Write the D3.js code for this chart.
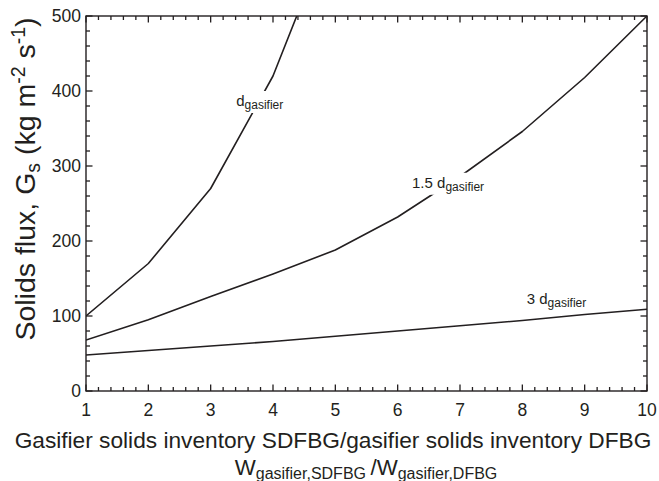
<!DOCTYPE html>
<html>
<head>
<meta charset="utf-8">
<script src="https://cdn.jsdelivr.net/npm/d3@7"></script>
<style>
  html, body { margin: 0; padding: 0; background: #fff; }
  svg { display: block; }
  text { font-family: "Liberation Sans", Arial, Helvetica, sans-serif; fill: #231f20; }
</style>
</head>
<body>
<svg id="chart" width="659" height="481"></svg>
<script>
// ---- data ----
const ratios = [1, 2, 3, 4, 5, 6, 7, 8, 9, 10];
const fluxD   = [100, 170, 270, 420, 630];            // d_gasifier (leaves the frame above 500)
const flux15D = [68, 95, 126, 156, 188, 232, 286, 346, 418, 500];
const flux3D  = [48, 54, 60, 66, 73, 80, 87, 94, 102, 109];
const xTicks = [1, 2, 3, 4, 5, 6, 7, 8, 9, 10];
const yTicks = [0, 100, 200, 300, 400, 500];
const xMinorTicks = [1.2, 1.4, 1.6, 1.8, 2.2, 2.4, 2.6, 2.8, 3.2, 3.4, 3.6, 3.8, 4.2, 4.4, 4.6, 4.8,
  5.2, 5.4, 5.6, 5.8, 6.2, 6.4, 6.6, 6.8, 7.2, 7.4, 7.6, 7.8, 8.2, 8.4, 8.6, 8.8, 9.2, 9.4, 9.6, 9.8];
const yMinorTicks = [20, 40, 60, 80, 120, 140, 160, 180, 220, 240, 260, 280, 320, 340, 360, 380, 420, 440, 460, 480];
const seriesLabels = [
  { main: "d", sub: "gasifier", x: 3.41, y: 380 },
  { main: "1.5 d", sub: "gasifier", x: 6.23, y: 271 },
  { main: "3 d", sub: "gasifier", x: 8.07, y: 116 }
];

// ---- layout ----
const svg = d3.select("#chart");
const m = { left: 86, top: 16 };
const pw = 647 - m.left, ph = 391 - m.top;
const ink = "#231f20";

const x = d3.scaleLinear().domain([1, 10]).range([0, pw]);
const y = d3.scaleLinear().domain([0, 500]).range([ph, 0]);

const g = svg.append("g").attr("transform", `translate(${m.left},${m.top})`);

svg.append("defs").append("clipPath").attr("id", "clip")
  .append("rect").attr("width", pw).attr("height", ph);

// ---- lines ----
const lineGen = d3.line().x((d, i) => x(ratios[i])).y(d => y(d));
const lines = g.append("g").attr("clip-path", "url(#clip)");
[fluxD, flux15D, flux3D].forEach(s => {
  lines.append("path").datum(s).attr("d", lineGen)
    .attr("fill", "none").attr("stroke", ink).attr("stroke-width", 1.6)
    .attr("stroke-linejoin", "round");
});

// ---- ticks (inward, all four sides), drawn as rects from the scales ----
const majLen = 6.5, minLen = 4, tw = 1.3;
const tickG = g.append("g").attr("fill", ink);
xTicks.concat(xMinorTicks).forEach(v => {
  const L = xTicks.includes(v) ? majLen : minLen;
  const px = x(v);
  tickG.append("rect").attr("x", px - tw / 2).attr("y", ph - L).attr("width", tw).attr("height", L);
  tickG.append("rect").attr("x", px - tw / 2).attr("y", 0).attr("width", tw).attr("height", L);
});
yTicks.concat(yMinorTicks).forEach(v => {
  const L = yTicks.includes(v) ? majLen : minLen;
  const py = y(v);
  tickG.append("rect").attr("x", 0).attr("y", py - tw / 2).attr("width", L).attr("height", tw);
  tickG.append("rect").attr("x", pw - L).attr("y", py - tw / 2).attr("width", L).attr("height", tw);
});

// frame
g.append("rect").attr("width", pw).attr("height", ph)
  .attr("fill", "none").attr("stroke", ink).attr("stroke-width", 1.4);

// ---- tick labels ----
g.append("g").selectAll("text").data(xTicks).join("text")
  .attr("x", d => x(d)).attr("y", ph + 25)
  .attr("text-anchor", "middle").attr("font-size", 17.5).text(d => d);
g.append("g").selectAll("text").data(yTicks).join("text")
  .attr("x", -5).attr("y", d => y(d) + 6.3)
  .attr("text-anchor", "end").attr("font-size", 17.5).text(d => d);

// ---- series labels with white backing ----
seriesLabels.forEach(l => {
  const grp = g.append("g");
  const t = grp.append("text").attr("x", x(l.x)).attr("y", y(l.y)).attr("font-size", 15);
  t.append("tspan").text(l.main);
  t.append("tspan").attr("font-size", 12).attr("dy", 3).text(l.sub);
  const b = t.node().getBBox();
  grp.insert("rect", "text").attr("x", b.x - 2).attr("y", b.y - 1)
    .attr("width", b.width + 4).attr("height", b.height + 2).attr("fill", "#fff");
});

// ---- axis titles ----
svg.append("text").attr("x", (16 + 650) / 2).attr("y", 448)
  .attr("text-anchor", "middle").attr("font-size", 22.7)
  .text("Gasifier solids inventory SDFBG/gasifier solids inventory DFBG");

const xt2 = svg.append("text").attr("x", 366).attr("y", 475)
  .attr("text-anchor", "middle").attr("font-size", 22.3);
xt2.append("tspan").text("W");
xt2.append("tspan").attr("font-size", 16).attr("dy", 4).text("gasifier,SDFBG ");
xt2.append("tspan").attr("dy", -4).text("/W");
xt2.append("tspan").attr("font-size", 16).attr("dy", 4).text("gasifier,DFBG");

const yt = svg.append("text")
  .attr("transform", `translate(35,${(12 + 346) / 2}) rotate(-90)`)
  .attr("text-anchor", "middle").attr("font-size", 28.5);
yt.append("tspan").text("Solids flux, G");
yt.append("tspan").attr("font-size", 19.5).attr("dy", 5).text("s");
yt.append("tspan").attr("dy", -5).text(" (kg m");
yt.append("tspan").attr("font-size", 19.5).attr("dy", -10).text("-2");
yt.append("tspan").attr("dy", 10).text(" s");
yt.append("tspan").attr("font-size", 19.5).attr("dy", -10).text("-1");
yt.append("tspan").attr("dy", 10).text(")");
</script>
</body>
</html>
